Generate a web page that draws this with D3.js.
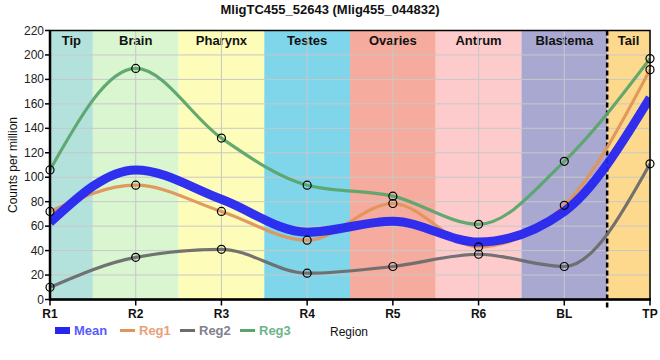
<!DOCTYPE html>
<html><head><meta charset="utf-8">
<script src="https://cdn.jsdelivr.net/npm/d3@7/dist/d3.min.js"></script>
<style>body{margin:0;background:#fff;}svg{display:block;font-family:Arial,"Liberation Sans",sans-serif;}</style>
</head><body><svg id="c" width="660" height="360"></svg>
<script>
const categories = ["R1","R2","R3","R4","R5","R6","BL","TP"];
const regions = ["Tip","Brain","Pharynx","Testes","Ovaries","Antrum","Blastema","Tail"];
const regionColors = ["#b3e2dc","#d9f6d0","#fdfdb9","#7fd5ea","#f5ab9d","#fdcbcb","#a9a8d0","#fdd98d"];
const meanValues = [63, 106, 82, 55, 64, 47, 72, 165];
const reg1Values = [72, 93.5, 72, 48.5, 78.5, 43, 77, 188];
const reg2Values = [10, 34.5, 41, 21.5, 27, 37, 27, 111];
const reg3Values = [106, 189, 132, 93.5, 84.5, 61.5, 113, 197];
const yTicks = [0,20,40,60,80,100,120,140,160,180,200,220];
const seriesNames = ["Mean","Reg1","Reg2","Reg3"];
const seriesColors = ["#2626f0","#e0955a","#6c6c6c","#5aa56c"];
const legendTextColors = ["#5a5aff","#eba07a","#80808e","#6cb48a"];
const title = "MligTC455_52643 (Mlig455_044832)";

const svg = d3.select("#c");
const L = 50, R = 650, T = 30.5, B = 299.5;
const x = d3.scalePoint().domain(categories).range([L, R]);
const xi = d3.scaleLinear().domain([0, categories.length - 1]).range([L, R]);
const y = d3.scaleLinear().domain([0, 220]).range([B, T]);

// region bands
regions.forEach((r, i) => {
  const x0 = xi(Math.max(0, i - 0.5)), x1 = xi(Math.min(categories.length - 1, i + 0.5));
  svg.append("rect").attr("x", x0).attr("y", T).attr("width", x1 - x0).attr("height", B - T)
    .attr("fill", regionColors[i]);
  svg.append("text").attr("x", (x0 + x1) / 2).attr("y", 45).attr("text-anchor", "middle")
    .attr("font-size", 13).attr("font-weight", "bold").attr("fill", "#111").text(r);
});

// grid
svg.append("g").selectAll("line").data(yTicks).join("line")
  .attr("x1", L).attr("x2", R).attr("y1", d => y(d)).attr("y2", d => y(d))
  .attr("stroke", "#c8c8c8").attr("stroke-width", 1);
svg.append("g").selectAll("line").data(categories).join("line")
  .attr("x1", d => x(d)).attr("x2", d => x(d)).attr("y1", T).attr("y2", B)
  .attr("stroke", "#c8c8c8").attr("stroke-width", 1);

// dashed separator
const xd = xi(6.5);
svg.append("line").attr("x1", xd).attr("x2", xd).attr("y1", T).attr("y2", B + 8)
  .attr("stroke", "#000").attr("stroke-width", 2.5).attr("stroke-dasharray", "5,3");

// lines
const line = d3.line().x((d, i) => x(categories[i])).y(d => y(d)).curve(d3.curveMonotoneX);
const allSeries = [meanValues, reg1Values, reg2Values, reg3Values];
svg.append("clipPath").attr("id", "pc").append("rect")
  .attr("x", L).attr("y", T - 10).attr("width", R - L).attr("height", B - T + 10);
[1, 2, 3, 0].forEach(k => {
  svg.append("path").attr("d", line(allSeries[k])).attr("fill", "none")
    .attr("clip-path", "url(#pc)")
    .attr("stroke", seriesColors[k]).attr("stroke-width", k === 0 ? 9 : 3.2)
    .attr("stroke-opacity", 0.95);
});
// points
[1, 2, 3].forEach(k => {
  svg.append("g").selectAll("circle").data(allSeries[k]).join("circle")
    .attr("cx", (d, i) => x(categories[i])).attr("cy", d => y(d)).attr("r", 4)
    .attr("fill", "none").attr("stroke", "#000").attr("stroke-width", 1.2);
});

// frame
svg.append("rect").attr("x", L).attr("y", T).attr("width", R - L).attr("height", B - T)
  .attr("fill", "none").attr("stroke", "#000").attr("stroke-width", 1.5);
svg.append("line").attr("x1", L).attr("x2", L).attr("y1", T).attr("y2", B + 1).attr("stroke", "#000").attr("stroke-width", 2.5);
svg.append("line").attr("x1", L - 1).attr("x2", R + 1).attr("y1", B).attr("y2", B).attr("stroke", "#000").attr("stroke-width", 2.5);

// y axis ticks
const yAxis = svg.append("g");
yTicks.forEach(t => {
  yAxis.append("line").attr("x1", L - 5).attr("x2", L).attr("y1", y(t)).attr("y2", y(t)).attr("stroke", "#000").attr("stroke-width", 1.5);
  yAxis.append("text").attr("x", L - 6).attr("y", y(t) + 4).attr("text-anchor", "end")
    .attr("font-size", 12).attr("fill", "#222").text(t);
});
// x axis ticks
categories.forEach(c => {
  svg.append("line").attr("x1", x(c)).attr("x2", x(c)).attr("y1", B).attr("y2", B + 6).attr("stroke", "#000").attr("stroke-width", 1.5);
  svg.append("text").attr("x", x(c)).attr("y", 318).attr("text-anchor", "middle")
    .attr("font-size", 12).attr("font-weight", "bold").attr("fill", "#111").text(c);
});

// labels
svg.append("text").attr("transform", "translate(17,165) rotate(-90)").attr("text-anchor", "middle")
  .attr("font-size", 12).attr("fill", "#111").text("Counts per million");
svg.append("text").attr("x", 330).attr("y", 14).attr("text-anchor", "middle")
  .attr("font-size", 13).attr("font-weight", "bold").attr("fill", "#111").text(title);
svg.append("text").attr("x", 330).attr("y", 336).attr("font-size", 12).attr("fill", "#111").text("Region");

// legend
const lx = [55, 120, 180, 240];
seriesNames.forEach((n, k) => {
  if (k === 0) {
    svg.append("rect").attr("x", lx[k]).attr("y", 327).attr("width", 15).attr("height", 7).attr("fill", seriesColors[k]);
  } else {
    svg.append("line").attr("x1", lx[k]).attr("x2", lx[k] + 15).attr("y1", 330.5).attr("y2", 330.5)
      .attr("stroke", seriesColors[k]).attr("stroke-width", 3);
  }
  svg.append("text").attr("x", lx[k] + 19).attr("y", 335).attr("font-size", 13).attr("font-weight", "bold")
    .attr("fill", legendTextColors[k]).text(n);
});
</script></body></html>
